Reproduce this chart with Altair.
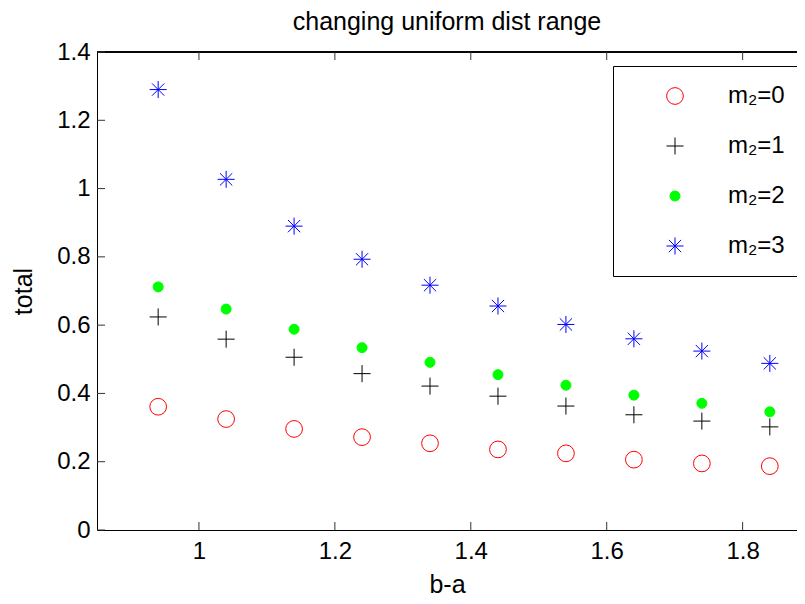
import altair as alt
import pandas as pd

x_vals = [0.94, 1.04, 1.14, 1.24, 1.34, 1.44, 1.54, 1.64, 1.74, 1.84]
m0 = [0.361, 0.325, 0.296, 0.272, 0.254, 0.236, 0.2245, 0.206, 0.195, 0.187]
m1 = [0.624, 0.559, 0.506, 0.458, 0.4215, 0.392, 0.363, 0.3375, 0.319, 0.302]
m2 = [0.712, 0.647, 0.588, 0.534, 0.491, 0.455, 0.424, 0.395, 0.371, 0.346]
m3 = [1.290, 1.027, 0.890, 0.793, 0.717, 0.656, 0.602, 0.560, 0.524, 0.488]
series_names = ["m\u2082=0", "m\u2082=1", "m\u2082=2", "m\u2082=3"]
x_ticks = [1, 1.2, 1.4, 1.6, 1.8]
y_ticks = [0, 0.2, 0.4, 0.6, 0.8, 1.0, 1.2, 1.4]

rows = []
for name, vals in zip(series_names, [m0, m1, m2, m3]):
    for xv, yv in zip(x_vals, vals):
        rows.append({"x": xv, "y": yv, "series": name})
df = pd.DataFrame(rows)
xt_df = pd.DataFrame({"xt": x_ticks})
yt_df = pd.DataFrame({"yt": y_ticks})

FONT = "Liberation Sans"
XDOM = [0.85, 1.88]
YDOM = [0, 1.4]

plus_path = "M-1,0H1M0,-1V1"
star_path = "M-1,0H1M0,-1V1M-0.72,-0.72L0.72,0.72M-0.72,0.72L0.72,-0.72"

xscale = alt.Scale(domain=XDOM, nice=False, zero=False)
yscale = alt.Scale(domain=YDOM, nice=False, zero=False)

LEG = dict(title=None, orient="none", legendX=516, legendY=14)

points = alt.Chart(df).mark_point(opacity=1, strokeWidth=1).encode(
    x=alt.X("x:Q", scale=xscale, title="b-a",
            axis=alt.Axis(values=x_ticks, format="~g", grid=False, ticks=False,
                          domainColor="black", domainWidth=1, labelPadding=9,
                          labelFont=FONT, labelFontSize=24, labelColor="black",
                          titleFont=FONT, titleFontSize=25, titleFontWeight="normal",
                          titleColor="black", titlePadding=9)),
    y=alt.Y("y:Q", scale=yscale, title="total",
            axis=alt.Axis(values=y_ticks, format="~g", grid=False, ticks=False,
                          domainColor="black", domainWidth=1, labelPadding=7,
                          labelFont=FONT, labelFontSize=24, labelColor="black",
                          titleFont=FONT, titleFontSize=25, titleFontWeight="normal",
                          titleColor="black", titlePadding=20)),
    stroke=alt.Stroke("series:N", scale=alt.Scale(domain=series_names,
                      range=["#ff0000", "#000000", "#00ff00", "#0000ff"]),
                      legend=alt.Legend(strokeColor="black", fillColor="white", padding=18,
                                        rowPadding=26, symbolOffset=32, labelOffset=41,
                                        labelFont=FONT, labelFontSize=24, labelColor="black",
                                        symbolStrokeWidth=1, cornerRadius=0, **LEG)),
    fill=alt.Fill("series:N", scale=alt.Scale(domain=series_names,
                  range=["transparent", "transparent", "#00ff00", "transparent"]),
                  legend=alt.Legend(**LEG)),
    shape=alt.Shape("series:N", scale=alt.Scale(domain=series_names,
                    range=["circle", plus_path, "circle", star_path]),
                    legend=alt.Legend(**LEG)),
    size=alt.Size("series:N", scale=alt.Scale(type="ordinal", domain=series_names,
                  range=[280, 290, 100, 290]),
                  legend=alt.Legend(**LEG)),
)

top_border = alt.Chart(xt_df).mark_rule(color="black", strokeWidth=1).encode(
    y=alt.datum(1.4, scale=yscale)
)

bottom_ticks = alt.Chart(xt_df).mark_rule(color="#333333", strokeWidth=1).encode(
    x=alt.X("xt:Q", scale=xscale), y=alt.datum(0.0), y2=alt.datum(0.0234)
)
top_ticks = alt.Chart(xt_df).mark_rule(color="#333333", strokeWidth=1).encode(
    x=alt.X("xt:Q", scale=xscale), y=alt.datum(1.4), y2=alt.datum(1.3766)
)
left_ticks = alt.Chart(yt_df).mark_rule(color="#333333", strokeWidth=1).encode(
    y=alt.Y("yt:Q", scale=yscale), x=alt.datum(0.85), x2=alt.datum(0.8618)
)

chart = alt.layer(top_border, bottom_ticks, top_ticks, left_ticks, points).properties(
    width=700, height=478,
    padding={"left": 89, "top": 44, "right": 0, "bottom": 68},
    autosize="none",
    background="white",
    title=alt.TitleParams("changing uniform dist range", font=FONT, fontSize=25,
                          fontWeight="normal", color="black", offset=5),
).configure_view(strokeWidth=0)

chart.save("out.html", embed_options={"renderer": "svg", "actions": False})
